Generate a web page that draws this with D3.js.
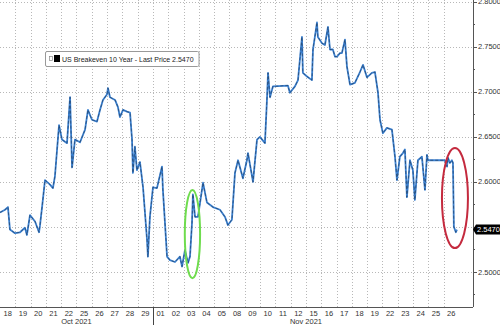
<!DOCTYPE html>
<html>
<head>
<meta charset="utf-8">
<script src="https://cdn.jsdelivr.net/npm/d3@7"></script>
<style>
html,body{margin:0;padding:0;background:#fff;}
svg{display:block;font-family:"Liberation Sans",Arial,sans-serif;}
</style>
</head>
<body>
<svg id="chart" width="500" height="325"></svg>
<script>
// trading-day position (0 = 18 Oct 2021) and value
const dayPos = [0.00,0.33,0.52,0.65,0.98,1.31,1.63,1.76,1.96,2.29,2.55,2.61,2.75,2.94,3.27,3.46,3.59,3.73,3.86,4.05,4.38,4.58,4.71,4.90,5.23,5.56,5.75,6.01,6.34,6.54,6.73,6.99,7.06,7.19,7.52,7.71,7.84,8.04,8.30,8.50,8.63,8.69,8.82,8.95,9.15,9.35,9.61,9.67,9.80,10.00,10.26,10.59,10.65,10.92,11.11,11.44,11.76,11.90,12.09,12.29,12.42,12.55,12.61,12.75,12.94,13.27,13.53,13.92,14.38,14.71,14.90,15.16,15.36,15.56,15.88,16.14,16.21,16.54,16.80,16.99,17.32,17.45,17.52,17.65,17.84,18.82,18.95,19.28,19.48,19.74,19.80,20.07,20.39,20.46,20.72,20.78,21.05,21.24,21.44,21.57,21.76,21.90,22.03,22.22,22.35,22.55,22.68,22.88,23.20,23.53,23.73,23.99,24.31,24.51,24.71,24.84,25.03,25.29,25.62,25.82,25.95,26.14,26.34,26.47,26.60,26.80,26.99,27.12,27.32,27.58,27.78,27.91,27.97,29.08,29.22,29.28,29.41,29.54,29.61,29.67,29.80,29.87];
const values = [2.566,2.569,2.572,2.547,2.543,2.544,2.549,2.541,2.563,2.556,2.544,2.551,2.572,2.602,2.597,2.593,2.606,2.636,2.663,2.647,2.643,2.694,2.616,2.647,2.644,2.658,2.680,2.669,2.667,2.680,2.691,2.697,2.704,2.694,2.691,2.683,2.672,2.680,2.678,2.677,2.647,2.610,2.639,2.613,2.622,2.594,2.536,2.517,2.561,2.594,2.593,2.617,2.591,2.517,2.513,2.511,2.517,2.506,2.524,2.510,2.517,2.554,2.586,2.561,2.561,2.599,2.577,2.572,2.569,2.561,2.552,2.558,2.610,2.624,2.604,2.624,2.632,2.600,2.647,2.650,2.643,2.691,2.721,2.694,2.706,2.707,2.699,2.706,2.713,2.761,2.721,2.717,2.713,2.747,2.777,2.761,2.754,2.752,2.772,2.747,2.747,2.739,2.739,2.743,2.743,2.758,2.728,2.708,2.710,2.722,2.730,2.716,2.721,2.722,2.699,2.669,2.654,2.660,2.658,2.628,2.602,2.628,2.632,2.636,2.583,2.624,2.613,2.580,2.624,2.628,2.591,2.630,2.624,2.624,2.617,2.627,2.621,2.624,2.621,2.550,2.544,2.547];

const dayLabels = ["18","19","20","21","22","25","26","27","28","29","01","02","03","04","05","08","09","10","11","12","15","16","17","18","19","22","23","24","25","26"];
const monthLabels = ["Oct 2021","Nov 2021"];
const monthCenters = [5, 20];
const monthBreaks = [10];
const yTicks = [2.50,2.55,2.60,2.65,2.70,2.75,2.80];
const yLabelTicks = [2.50,2.60,2.65,2.70,2.75,2.80];
const yMinor = [2.475,2.525,2.575,2.625,2.675,2.725,2.775];
const lastPrice = 2.5470;
const legendText = "US Breakeven 10 Year - Last Price 2.5470";
// annotation ellipses: [center day, center value, half-width days, half-height value, colour]
const ellipses = [[12.58,2.542,0.5,0.049,"#6fdc4e"],[29.74,2.582,0.85,0.0555,"#c42a3e"]];

const svg = d3.select("#chart");
const W = 473, H = 307;
const x = d3.scaleLinear().domain([0, 30.92]).range([0, W]);
const y = d3.scaleLinear().domain([2.461, 2.802]).range([H, 0]);

// grid
const grid = svg.append("g");
grid.selectAll(".vg").data(d3.range(1, 30)).join("line")
  .attr("x1", d => Math.round(x(d)) + 0.5).attr("x2", d => Math.round(x(d)) + 0.5)
  .attr("y1", 0).attr("y2", H)
  .attr("stroke", "#b8b8b8").attr("stroke-width", 1).attr("stroke-dasharray", "1,2");
grid.selectAll(".hg").data(yTicks).join("line")
  .attr("x1", 0).attr("x2", W)
  .attr("y1", d => Math.round(y(d)) + 0.5).attr("y2", d => Math.round(y(d)) + 0.5)
  .attr("stroke", "#b8b8b8").attr("stroke-width", 1).attr("stroke-dasharray", "1,2");

// series
const pts = dayPos.map((d, i) => [d, values[i]]);
const line = d3.line().x(d => x(d[0])).y(d => y(d[1]));
svg.append("path").datum(pts).attr("d", line)
  .attr("fill", "none").attr("stroke", "#3b80d0").attr("stroke-width", 1.8).attr("stroke-linejoin", "round");
svg.append("path").datum(pts).attr("d", line)
  .attr("fill", "none").attr("stroke", "#16202e").attr("stroke-width", 0.7).attr("stroke-opacity", 0.65)
  .attr("stroke-dasharray", "3,2").attr("stroke-linejoin", "round");

// ellipses
svg.selectAll(".ell").data(ellipses).join("ellipse")
  .attr("cx", d => x(d[0])).attr("cy", d => y(d[1]))
  .attr("rx", d => x(d[2]) - x(0)).attr("ry", d => y(d[1] - d[3]) - y(d[1]))
  .attr("fill", "none").attr("stroke", d => d[4]).attr("stroke-width", 2);

// axes frame
svg.append("line").attr("x1", W + 0.5).attr("x2", W + 0.5).attr("y1", 0).attr("y2", H)
  .attr("stroke", "#555").attr("stroke-width", 1);
svg.append("line").attr("x1", 0).attr("x2", W).attr("y1", H + 0.5).attr("y2", H + 0.5)
  .attr("stroke", "#555").attr("stroke-width", 1);

// y axis (right)
const yAxis = svg.append("g");
yAxis.selectAll(".yt").data(yTicks).join("line")
  .attr("x1", W).attr("x2", W + 4)
  .attr("y1", d => Math.round(y(d)) + 0.5).attr("y2", d => Math.round(y(d)) + 0.5)
  .attr("stroke", "#555");
yAxis.selectAll(".ym").data(yMinor).join("line")
  .attr("x1", W).attr("x2", W + 2)
  .attr("y1", d => Math.round(y(d)) + 0.5).attr("y2", d => Math.round(y(d)) + 0.5)
  .attr("stroke", "#555");
yAxis.selectAll(".yl").data(yLabelTicks).join("text")
  .attr("x", W + 5).attr("y", d => y(d)).attr("dy", "0.35em")
  .attr("font-size", 7.5).attr("fill", "#333").text(d => d3.format(".4f")(d));

// last price tag
const ly = y(lastPrice);
svg.append("path").attr("d", `M${W},${ly} l3,-5 h24 v10 h-24 z`).attr("fill", "#000");
svg.append("text").attr("x", W + 4).attr("y", ly).attr("dy", "0.35em")
  .attr("font-size", 7.5).attr("fill", "#fff").text(d3.format(".4f")(lastPrice));

// x axis labels
svg.selectAll(".xl").data(dayLabels).join("text")
  .attr("x", (d, i) => x(i + 0.5)).attr("y", H + 9).attr("text-anchor", "middle")
  .attr("font-size", 7.5).attr("fill", "#333").text(d => d);
svg.selectAll(".ml").data(monthLabels).join("text")
  .attr("x", (d, i) => x(monthCenters[i])).attr("y", H + 17).attr("text-anchor", "middle")
  .attr("font-size", 7.5).attr("fill", "#333").text(d => d);
svg.selectAll(".mb").data(monthBreaks).join("line")
  .attr("x1", d => Math.round(x(d)) + 0.5).attr("x2", d => Math.round(x(d)) + 0.5)
  .attr("y1", H).attr("y2", 325).attr("stroke", "#444");

// legend
const lg = svg.append("g");
const lt = lg.append("text").attr("x", 62).attr("y", 62).attr("font-size", 7)
  .attr("fill", "#222").text(legendText);
const tw = lt.node().getComputedTextLength();
lg.insert("rect", "text").attr("x", 45.5).attr("y", 51.5).attr("width", tw + 22).attr("height", 15)
  .attr("rx", 1.5).attr("fill", "#fff").attr("stroke", "#999");
lg.append("rect").attr("x", 49.5).attr("y", 56.5).attr("width", 3).attr("height", 4)
  .attr("fill", "#fff").attr("stroke", "#888").attr("stroke-width", 0.7);
lg.append("rect").attr("x", 54).attr("y", 55).attr("width", 6).attr("height", 7).attr("fill", "#000");
</script>
</body>
</html>
